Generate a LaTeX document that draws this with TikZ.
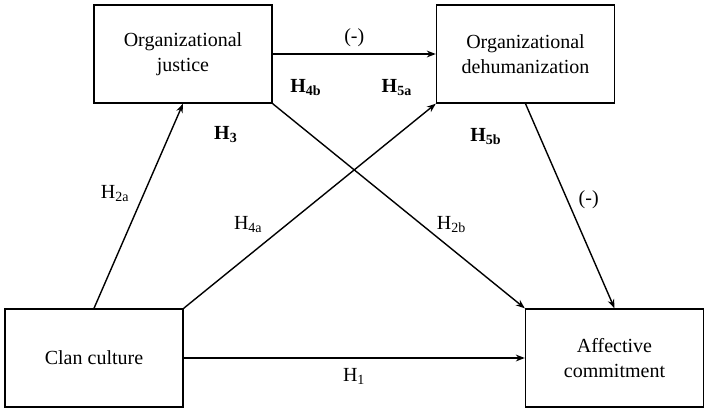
\documentclass[tikz,border=0pt]{standalone}
\usepackage{fontspec}
\setmainfont{Liberation Serif}
\usetikzlibrary{arrows.meta,positioning}

\begin{document}
\begin{tikzpicture}[x=0.5pt,y=-0.5pt,>={Stealth[length=4.5pt,width=3.4pt]},node distance=171.25pt,on grid,line width=0.7pt,
  var/.style={draw,minimum width=89pt,minimum height=49pt,inner sep=0pt,align=center,font=\fontsize{10}{12.5}\selectfont},
  hyp/.style={font=\fontsize{10}{12}\selectfont},
  bhyp/.style={font=\fontsize{10}{12}\selectfont\bfseries}]
  \useasboundingbox (0,0) rectangle (708,412);
  \node[var] (oj) at (183,54) {Organizational\\justice};
  \node[var] (od) [right=of oj] {Organizational\\dehumanization};
  \node[var] (cc) at (94,358) {Clan culture};
  \node[var] (ac) [right=260.25pt of cc] {Affective\\commitment};

  \path[->] (oj) edge node[hyp,above] {(-)} (od)
            (cc) edge node[hyp,below=1.5pt] {H\textsubscript{1}} (ac)
            (cc.north) edge node[hyp,pos=.56,left=3.5pt] {H\textsubscript{2a}} (oj.south)
            (cc.north east) edge node[hyp,pos=.41,left=8.5pt] {H\textsubscript{4a}} (od.south west)
            (oj.south east) edge node[hyp,pos=.59,right=4pt] {H\textsubscript{2b}} (ac.north west)
            (od.south) edge node[hyp,pos=.47,right=2pt] {(-)} (ac.north);

  % mediation hypotheses
  \node[bhyp] (h3) at (226,135) {H\textsubscript{3}};
  \node[bhyp] (h4b) at (306,88) {H\textsubscript{4b}};
  \node[bhyp] (h5a) at (397,88) {H\textsubscript{5a}};
  \node[bhyp] (h5b) at (486,137) {H\textsubscript{5b}};
\end{tikzpicture}
\end{document}
